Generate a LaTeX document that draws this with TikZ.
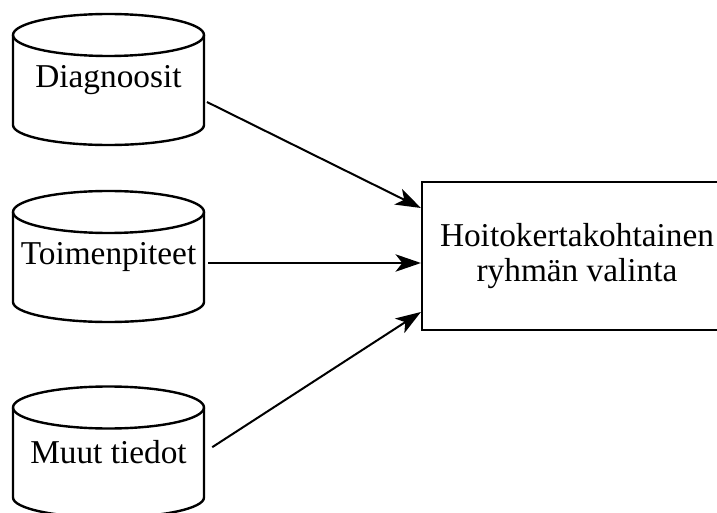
\documentclass[tikz,border=0pt]{standalone}
\usepackage{fontspec}
\setmainfont{Liberation Serif}
\usetikzlibrary{arrows.meta}
\begin{document}
\begin{tikzpicture}[x=0.75pt,y=-0.75pt,
  cylbody/.style={inner sep=0pt, minimum width=143.25pt, minimum height=67.5pt,
    font=\fontsize{25}{26}\selectfont},
  cylline/.style={line width=1.8pt, line join=round},
  boxnode/.style={draw, line width=1.6pt, inner sep=0pt, minimum width=232.5pt,
    minimum height=111pt, align=center, font=\fontsize{25}{26}\selectfont},
  arr/.style={line width=1.5pt, -{Stealth[length=19pt,width=13pt,inset=5pt]}},
  dbcyl/.pic={
    \draw[cylline] (0,-45) ellipse[x radius=95.5, y radius=21];
    \draw[cylline] (-95.5,-45) -- (-95.5,45) arc[start angle=180, end angle=0, x radius=95.5, y radius=20] -- (95.5,-45);
  }]
\useasboundingbox (0,0) rectangle (717,513);
\clip (0,0) rectangle (717,513);

\pic at (108.5,80) {dbcyl};
\pic at (108.5,257) {dbcyl};
\pic at (108.5,452.5) {dbcyl};

\node[cylbody] (diag) at (108.5,80) {Diagnoosit};
\node[cylbody] (toim) at (108.5,257) {\raisebox{3pt}{Toimenpiteet}};
\node[cylbody] (muut) at (108.5,452.5) {Muut tiedot};

\node[boxnode] (hoito) at (577,256) {Hoitokertakohtainen\\ryhmän valinta};

\draw[arr] ([xshift=2pt,yshift=-16.5pt]diag.east) -- ([yshift=36pt]hoito.west);
\draw[arr] ([xshift=3pt,yshift=-4.5pt]toim.east) -- ([yshift=-5.25pt]hoito.west);
\draw[arr] ([xshift=6pt,yshift=4pt]muut.east) -- ([yshift=-42pt]hoito.west);
\end{tikzpicture}
\end{document}
